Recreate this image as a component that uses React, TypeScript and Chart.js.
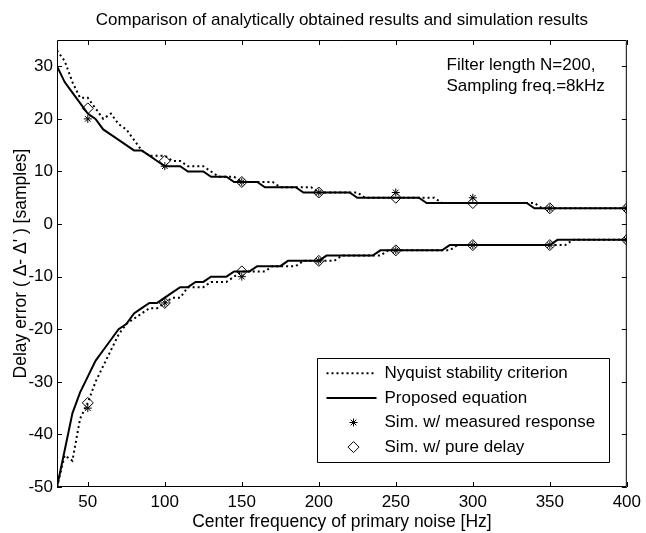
import React, { useEffect, useRef } from "react";
import { Chart, registerables } from "chart.js";

Chart.register(...registerables);

const FONT = "'Liberation Sans', Arial, Helvetica, sans-serif";

const titleText = "Comparison of analytically obtained results and simulation results";
const xTitle = "Center frequency of primary noise [Hz]";
const yTitle = "Delay error ( \u0394- \u0394' ) [samples]";
const noteLines = ["Filter length N=200,", "Sampling freq.=8kHz"];

const xTicks = [50, 100, 150, 200, 250, 300, 350, 400];
const yTicks = [-50, -40, -30, -20, -10, 0, 10, 20, 30];
const xMin = 30;
const xMax = 400;
const yMin = -50;
const yMax = 35;

const legendLabels = [
  "Nyquist stability criterion",
  "Proposed equation",
  "Sim. w/ measured response",
  "Sim. w/ pure delay",
];

// Nyquist stability criterion (upper branch)
const nyqUpperF = [30, 35, 40, 45, 50, 55, 60, 65, 70, 75, 80, 85, 90, 100, 105, 110, 115, 125, 130, 135, 145, 150, 170, 175, 195, 200, 225, 230, 275, 280, 340, 345, 400];
const nyqUpperD = [33, 31, 27, 24, 24, 22, 20, 21, 19, 18, 16, 14, 13, 13, 12, 12, 11, 11, 10, 9, 9, 8, 8, 7, 7, 6, 6, 5, 5, 4, 4, 3, 3];
// Nyquist stability criterion (lower branch)
const nyqLowerF = [30, 35, 40, 45, 50, 55, 60, 65, 70, 75, 80, 85, 90, 95, 100, 105, 110, 115, 125, 130, 140, 145, 150, 165, 170, 185, 190, 210, 215, 240, 245, 285, 290, 360, 365, 400];
const nyqLowerD = [-50, -44, -45, -37, -34, -30, -27, -24, -21, -19, -18, -17, -16, -16, -15, -14, -14, -12, -12, -11, -11, -10, -9, -9, -8, -8, -7, -7, -6, -6, -5, -5, -4, -4, -3, -3];

// Proposed equation (upper branch)
const propUpperF = [30, 35, 40, 45, 50, 55, 60, 65, 70, 75, 80, 85, 90, 95, 100, 110, 115, 125, 130, 140, 145, 160, 165, 185, 190, 220, 225, 265, 270, 335, 340, 400];
const propUpperD = [30, 27, 25, 23, 21, 20, 18, 17, 16, 15, 14, 14, 13, 12, 11, 11, 10, 10, 9, 9, 8, 8, 7, 7, 6, 6, 5, 5, 4, 4, 3, 3];
// Proposed equation (lower branch)
const propLowerF = [30, 35, 40, 45, 50, 55, 60, 65, 70, 75, 80, 85, 90, 95, 100, 105, 110, 115, 120, 125, 130, 140, 145, 155, 160, 175, 180, 200, 205, 235, 240, 280, 285, 350, 355, 400];
const propLowerD = [-50, -43, -36, -32, -29, -26, -24, -22, -20, -19, -17, -16, -15, -15, -14, -13, -12, -12, -11, -11, -10, -10, -9, -9, -8, -8, -7, -7, -6, -6, -5, -5, -4, -4, -3, -3];

// Simulations
const simF = [50, 100, 150, 200, 250, 300, 350, 400];
const measUpper = [20, 11, 8, 6, 6, 5, 3, 3];
const measLower = [-35, -15, -10, -7, -5, -4, -4, -3];
const pureUpper = [22, 12, 8, 6, 5, 4, 3, 3];
const pureLower = [-34, -15, -9, -7, -5, -4, -4, -3];

const pts = (f: number[], d: number[]) => f.map((x, i) => ({ x, y: d[i] }));

const DOT_DASH = [2, 3];

const framePlugin = {
  id: "frame",
  afterDraw(chart: any) {
    const { ctx, chartArea: ca, scales } = chart;
    const tl = 5;
    ctx.save();
    ctx.strokeStyle = "#000";
    ctx.lineWidth = 1;
    ctx.setLineDash([]);
    ctx.beginPath();
    ctx.rect(ca.left + 0.5, ca.top + 0.5, ca.right - ca.left - 1, ca.bottom - ca.top - 1);
    ctx.stroke();
    ctx.beginPath();
    for (const v of xTicks) {
      const px = Math.round(scales.x.getPixelForValue(v)) + 0.5;
      ctx.moveTo(px, ca.bottom);
      ctx.lineTo(px, ca.bottom - tl);
      ctx.moveTo(px, ca.top);
      ctx.lineTo(px, ca.top + tl);
    }
    for (const v of yTicks) {
      const py = Math.round(scales.y.getPixelForValue(v)) + 0.5;
      ctx.moveTo(ca.left, py);
      ctx.lineTo(ca.left + tl, py);
      ctx.moveTo(ca.right, py);
      ctx.lineTo(ca.right - tl, py);
    }
    ctx.stroke();

    // annotation text
    ctx.fillStyle = "#000";
    ctx.font = `17px ${FONT}`;
    ctx.textBaseline = "middle";
    ctx.textAlign = "left";
    const nx = ca.right - 180.3;
    noteLines.forEach((t, i) => ctx.fillText(t, nx, ca.top + 25 + i * 21.7));

    // legend
    const lw = 291.6;
    const lh = 104;
    const lx = ca.right - 310.3;
    const ly = ca.bottom - 129.3;
    ctx.fillStyle = "#fff";
    ctx.fillRect(lx, ly, lw, lh);
    ctx.beginPath();
    ctx.rect(Math.round(lx) + 0.5, Math.round(ly) + 0.5, Math.round(lw), Math.round(lh));
    ctx.strokeStyle = "#000";
    ctx.lineWidth = 1;
    ctx.stroke();
    legendLabels.forEach((label, i) => {
      const cy = ly + 15.6 + i * 24.6;
      const sx0 = lx + 10;
      const sx1 = lx + 60;
      const cx = lx + 37;
      ctx.strokeStyle = "#000";
      if (i === 0 || i === 1) {
        ctx.beginPath();
        ctx.lineWidth = 2;
        ctx.setLineDash(i === 0 ? DOT_DASH : []);
        ctx.moveTo(sx0, cy);
        ctx.lineTo(sx1, cy);
        ctx.stroke();
        ctx.setLineDash([]);
      } else if (i === 2) {
        const r = 4;
        ctx.lineWidth = 1;
        ctx.beginPath();
        for (let k = 0; k < 4; k++) {
          const a = (k * Math.PI) / 4;
          ctx.moveTo(cx - Math.cos(a) * r, cy - Math.sin(a) * r);
          ctx.lineTo(cx + Math.cos(a) * r, cy + Math.sin(a) * r);
        }
        ctx.stroke();
      } else {
        const r = 5.5;
        ctx.lineWidth = 1;
        ctx.beginPath();
        ctx.moveTo(cx, cy - r);
        ctx.lineTo(cx + r, cy);
        ctx.lineTo(cx, cy + r);
        ctx.lineTo(cx - r, cy);
        ctx.closePath();
        ctx.stroke();
      }
      ctx.fillStyle = "#000";
      ctx.font = `17px ${FONT}`;
      ctx.textBaseline = "middle";
      ctx.textAlign = "left";
      ctx.fillText(label, lx + 68, cy);
    });
    ctx.restore();
  },
};

export default function App() {
  const canvasRef = useRef<HTMLCanvasElement | null>(null);

  useEffect(() => {
    document.body.style.margin = "0";
    const canvas = canvasRef.current;
    if (!canvas) return;

    const lineDs = (label: string, f: number[], d: number[], dotted: boolean) => ({
      label,
      data: pts(f, d),
      borderColor: "#000",
      backgroundColor: "#000",
      borderWidth: 2,
      borderDash: dotted ? DOT_DASH : [],
      borderCapStyle: "butt",
      pointRadius: 0,
      tension: 0,
      fill: false,
      showLine: true,
    });
    const markDs = (label: string, f: number[], d: number[], style: string, r: number) => ({
      label,
      data: pts(f, d),
      borderColor: "#000",
      backgroundColor: "rgba(0,0,0,0)",
      borderWidth: 1,
      pointStyle: style,
      pointRadius: r,
      showLine: false,
    });

    const chart = new Chart(canvas, {
      type: "line",
      data: {
        datasets: [
          lineDs(legendLabels[0], nyqUpperF, nyqUpperD, true),
          lineDs(legendLabels[0], nyqLowerF, nyqLowerD, true),
          lineDs(legendLabels[1], propUpperF, propUpperD, false),
          lineDs(legendLabels[1], propLowerF, propLowerD, false),
          markDs(legendLabels[2], simF, measUpper, "star", 4),
          markDs(legendLabels[2], simF, measLower, "star", 4),
          markDs(legendLabels[3], simF, pureUpper, "rectRot", 5.5),
          markDs(legendLabels[3], simF, pureLower, "rectRot", 5.5),
        ] as any,
      },
      options: {
        animation: false,
        responsive: true,
        maintainAspectRatio: false,
        events: [],
        layout: { padding: { left: 0, right: 14, top: 0, bottom: 0 } },
        plugins: {
          legend: { display: false },
          tooltip: { enabled: false },
          title: { display: false },
        },
        scales: {
          x: {
            type: "linear",
            min: xMin,
            max: xMax,
            grid: { display: false, drawTicks: false },
            border: { display: false },
            ticks: {
              color: "#000",
              font: { family: FONT, size: 17 },
              padding: 5,
              maxRotation: 0,
              autoSkip: false,
            },
            afterBuildTicks: (scale: any) => {
              scale.ticks = xTicks.map((v) => ({ value: v }));
            },
            afterFit: (scale: any) => {
              scale.height = 46;
            },
            title: {
              display: true,
              text: xTitle,
              color: "#000",
              font: { family: FONT, size: 17.5 },
              padding: { top: 0, bottom: 0 },
            },
          },
          top: {
            type: "linear",
            position: "top",
            min: xMin,
            max: xMax,
            grid: { display: false, drawTicks: false },
            border: { display: false },
            ticks: { display: false },
            afterFit: (scale: any) => {
              scale.height = 40;
            },
            title: {
              display: true,
              text: titleText,
              color: "#000",
              font: { family: FONT, size: 17 },
              padding: { top: 10.5, bottom: 0 },
            },
          },
          y: {
            type: "linear",
            min: yMin,
            max: yMax,
            grid: { display: false, drawTicks: false },
            border: { display: false },
            ticks: {
              color: "#000",
              font: { family: FONT, size: 17 },
              padding: 4,
              autoSkip: false,
            },
            afterBuildTicks: (scale: any) => {
              scale.ticks = yTicks.map((v) => ({ value: v }));
            },
            afterFit: (scale: any) => {
              scale.width = 57;
            },
            title: {
              display: true,
              text: yTitle,
              color: "#000",
              font: { family: FONT, size: 17.5 },
              padding: { top: 11, bottom: 0 },
            },
          },
        },
      } as any,
      plugins: [framePlugin],
    });

    return () => chart.destroy();
  }, []);

  return (
    <div style={{ position: "fixed", left: 0, top: 0, width: 646, height: 533, background: "#fff" }}>
      <canvas ref={canvasRef} />
    </div>
  );
}
